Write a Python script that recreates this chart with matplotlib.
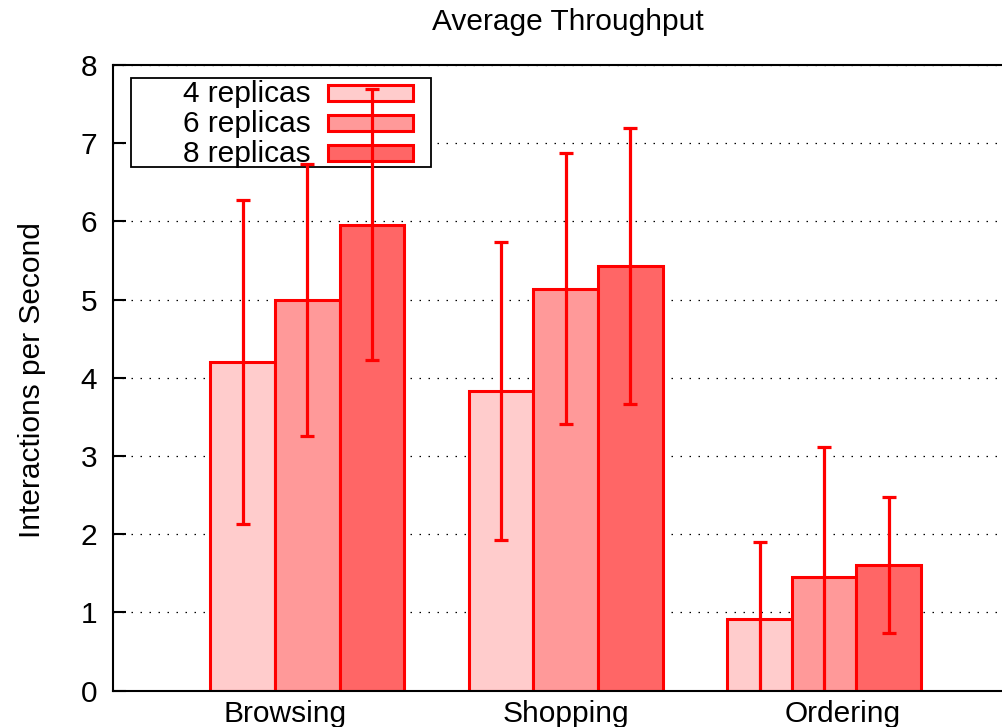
import numpy as np
import matplotlib
matplotlib.use('Agg')
import matplotlib.pyplot as plt
from matplotlib.patches import Rectangle

plt.rcParams['font.family'] = ['Liberation Sans', 'DejaVu Sans']

## data: mean interactions/s and error (+/-) per workload
groups = ['Browsing', 'Shopping', 'Ordering']
series = ['4 replicas', '6 replicas', '8 replicas']
means_4 = [4.20, 3.83, 0.91]
means_6 = [5.00, 5.14, 1.45]
means_8 = [5.96, 5.43, 1.60]
err_4 = [2.07, 1.90, 0.99]
err_6 = [1.74, 1.73, 1.67]
err_8 = [1.73, 1.77, 0.87]
colors = ['#FFCCCC', '#FF9999', '#FF6666']

means = [means_4, means_6, means_8]
errs = [err_4, err_6, err_8]

W, H = 1003, 727
fig = plt.figure(figsize=(W/100, H/100), dpi=100)
# axes box in pixels: left 113, top 65, bottom 690.5, runs off the right edge
ax = fig.add_axes([113/W, (H-690.5)/H, (W-113)/W, (690.5-65)/H])

bw = 0.25
x = np.arange(len(groups))
for i in range(len(series)):
    xi = x + (i - 1)*bw
    ax.bar(xi, means[i], bw, color=colors[i], edgecolor='#FF0000',
           linewidth=2.2, zorder=2)
    ax.errorbar(xi, means[i], yerr=errs[i], fmt='none', ecolor='#FF0000',
                elinewidth=2.3, capsize=4.8, capthick=2.3, zorder=4)

ax.set_xlim(-0.752, 2.692)
ax.set_ylim(0, 8)
ax.set_yticks(range(0, 9))
ax.tick_params(axis='y', direction='in', length=9.4, width=1.5, pad=11.5,
               labelsize=21.5)
# gnuplot-style label placement under each group
label_offsets = [-0.085, 0.0, 0.07]
ax.set_xticks(x + np.array(label_offsets))
ax.set_xticklabels(groups, fontsize=21.5)
ax.tick_params(axis='x', length=0, pad=7)

ax.yaxis.grid(True, color='black', linestyle=(0, (1.2, 6)), linewidth=0.9,
              zorder=1)
ax.set_axisbelow(True)
for s in ['left', 'bottom', 'top']:
    ax.spines[s].set_linewidth(1.5)
    ax.spines[s].set_zorder(5)
ax.spines['right'].set_visible(False)

ax.set_ylabel('Interactions per Second', fontsize=21.5, va='center')
ax.yaxis.set_label_coords((32-113)/890, 0.497)

fig.text(567.5/W, 1 - 22/H, 'Average Throughput', ha='center', va='center',
         fontsize=21.5)

# key box, drawn under the error bars
def px(xp, yp):
    return ((xp-113)/890, (690.5-yp)/625.5)

bx0, by0 = px(131, 167)
bx1, by1 = px(431, 78)
ax.add_patch(Rectangle((bx0, by0), bx1-bx0, by1-by0, transform=ax.transAxes,
                       facecolor='white', edgecolor='black', linewidth=1.3,
                       zorder=3, clip_on=False))
for i, name in enumerate(series):
    yc = 93 + 30*i
    tx, ty = px(311, yc + 1)
    ax.text(tx, ty, name, transform=ax.transAxes, ha='right', va='center',
            fontsize=21.5, zorder=3.1)
    sx0, sy0 = px(328, yc + 8)
    sx1, sy1 = px(413, yc - 8)
    ax.add_patch(Rectangle((sx0, sy0), sx1-sx0, sy1-sy0, transform=ax.transAxes,
                           facecolor=colors[i], edgecolor='#FF0000',
                           linewidth=2.2, zorder=3.1, clip_on=False))

fig.savefig('out.png', dpi=100)
